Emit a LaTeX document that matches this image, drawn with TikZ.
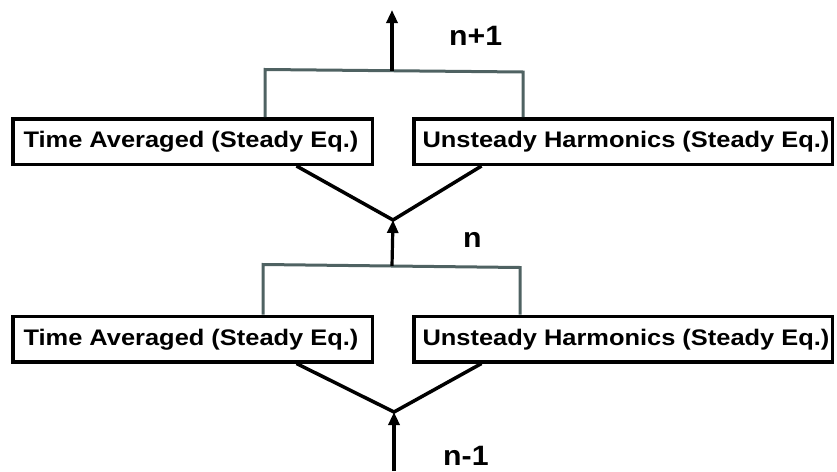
\documentclass[tikz,border=0pt]{standalone}
\usepackage{graphicx}
\usepackage{fontspec}
\setmainfont{Liberation Sans}
\usetikzlibrary{arrows.meta,calc}
\definecolor{brk}{HTML}{4F6262}
\newcommand{\wbx}[1]{\scalebox{1.13}[1]{#1}}
\newcommand{\wlb}[1]{\scalebox{1.08}[1]{#1}}
\tikzset{
  box/.style={draw=black, line width=3.5pt, minimum height=45.5pt, inner sep=0pt, fill=white},
  boxtext/.style={font=\fontsize{22.5}{26}\selectfont\bfseries, inner sep=0pt, anchor=base},
  lbl/.style={font=\fontsize{28}{32}\selectfont\bfseries, inner sep=0pt, anchor=base west},
  blk/.style={draw=black, line width=3.5pt},
  brack/.style={draw=brk, line width=3pt},
  arr/.style={draw=black, line width=3.2pt, -{Triangle[length=13pt,width=11pt]}}
}
\begin{document}
\begin{tikzpicture}[x=1pt,y=-1pt]
\useasboundingbox (0,0) rectangle (837,471);
% boxes
\node[box, minimum width=359.5pt] (bL1) at (192.5,141.5) {};
\node[box, minimum width=418.5pt] (bR1) at (623,141.5) {};
\node[box, minimum width=359.5pt] (bL2) at (192.5,339) {};
\node[box, minimum width=418.5pt] (bR2) at (623,339) {};
\node[boxtext] (tL1) at (191,147.5) {\wbx{Time Averaged (Steady Eq.)}};
\node[boxtext] (tR1) at (626,147.5) {\wbx{Unsteady Harmonics (Steady Eq.)}};
\node[boxtext] (tL2) at (191,345) {\wbx{Time Averaged (Steady Eq.)}};
\node[boxtext] (tR2) at (626,345) {\wbx{Unsteady Harmonics (Steady Eq.)}};
% coordinates
\coordinate (top) at (392,10);
\coordinate (m1) at (392,70.8);
\coordinate (k1l) at (265,69.5);
\coordinate (k1r) at (523,72);
\coordinate (J1) at (393,220);
\coordinate (m2) at (392,265.8);
\coordinate (k2l) at (263,264.5);
\coordinate (k2r) at (520,267.5);
\coordinate (J2) at (394,412);
\coordinate (bot) at (394,471);
% brackets
\draw[brack] (bL1.north -| k1l) -- (k1l) -- (k1r) -- (bR1.north -| k1r);
\draw[brack] (bL2.north -| k2l) -- (k2l) -- (k2r) -- (bR2.north -| k2r);
% V lines
\draw[blk, line join=miter] ($(bL1.south west)+(285.5,0)$) -- (J1) -- ($(bR1.south west)+(69.5,0)$);
\draw[blk, line join=miter] ($(bL2.south west)+(285.5,0)$) -- (J2) -- ($(bR2.south west)+(69.5,0)$);
% arrows
\draw[arr] (m1) -- (top);
\draw[arr] (m2) -- (J1);
\draw[arr] (bot) -- (J2);
% labels
\node[lbl] (t1) at (449,45) {\wlb{n+1}};
\node[lbl] (t2) at (463,247) {\wlb{n}};
\node[lbl] (t3) at (443,465) {\wlb{n-1}};
\end{tikzpicture}
\end{document}
